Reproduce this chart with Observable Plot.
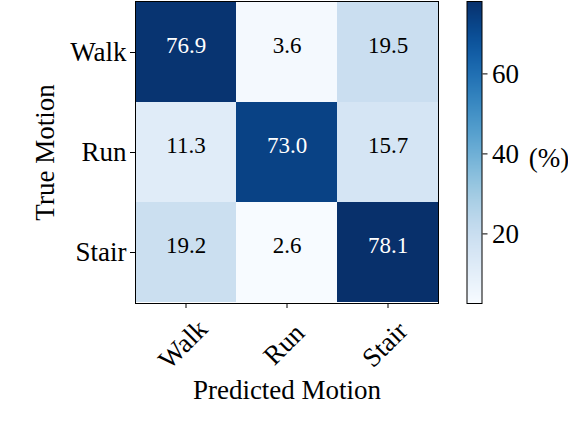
<!DOCTYPE html>
<html>
<head>
<meta charset="utf-8">
<script src="https://cdn.jsdelivr.net/npm/d3@7"></script>
<script src="https://cdn.jsdelivr.net/npm/@observablehq/plot@0.6"></script>
<style>
  html, body { margin: 0; padding: 0; background: #fff; }
  #wrap { position: relative; width: 568px; height: 434px; }
  #wrap svg { position: absolute; left: 0; top: 0; }
</style>
</head>
<body>
<div id="wrap"></div>
<script>
const trueLabels = ["Walk", "Run", "Stair"];
const predLabels = ["Walk", "Run", "Stair"];
const walkRow = [76.9, 3.6, 19.5];
const runRow = [11.3, 73.0, 15.7];
const stairRow = [19.2, 2.6, 78.1];
const colorTicks = [20, 40, 60];

const rows = [walkRow, runRow, stairRow];
const cells = [];
rows.forEach((r, i) => r.forEach((v, j) => cells.push({t: trueLabels[i], p: predLabels[j], v})));
const vmin = d3.min(cells, d => d.v), vmax = d3.max(cells, d => d.v);
const font = "Liberation Serif";
const fs = 27;

const main = Plot.plot({
  width: 568, height: 434,
  marginLeft: 135, marginRight: 130, marginTop: 1, marginBottom: 131,
  style: {fontFamily: font, fontSize: fs + "px", background: "transparent", color: "black"},
  x: {domain: predLabels, padding: 0, label: null},
  y: {domain: trueLabels, padding: 0, label: null},
  color: {type: "linear", scheme: "blues", domain: [vmin, vmax]},
  marks: [
    Plot.cell(cells, {x: "p", y: "t", fill: "v"}),
    Plot.text(cells.filter(d => d.v <= 50), {x: "p", y: "t", text: d => d.v.toFixed(1), fill: "black", fontSize: 23, dy: -7}),
    Plot.text(cells.filter(d => d.v > 50), {x: "p", y: "t", text: d => d.v.toFixed(1), fill: "white", fontSize: 23, dy: -7}),
    Plot.frame({stroke: "black", strokeWidth: 1}),
    Plot.axisY({tickSize: 5, tickPadding: 4, fontSize: fs, label: null}),
    Plot.axisX({tickSize: 5, tickFormat: () => "", label: null}),
    Plot.text(predLabels, {x: d => d, frameAnchor: "bottom", dy: 41, dx: -3, rotate: -45, textAnchor: "middle", lineAnchor: "middle", fontSize: fs}),
    Plot.text(["Predicted Motion"], {frameAnchor: "bottom", dy: 87, textAnchor: "middle", lineAnchor: "middle", fontSize: fs}),
    Plot.text(["True Motion"], {frameAnchor: "left", dx: -90, rotate: -90, textAnchor: "middle", lineAnchor: "middle", fontSize: fs})
  ]
});

const bar = Plot.plot({
  width: 568, height: 434,
  marginLeft: 466.5, marginRight: 86.5, marginTop: 1, marginBottom: 131,
  style: {fontFamily: font, fontSize: fs + "px", background: "transparent", color: "black"},
  x: {domain: [0, 1], axis: null},
  y: {domain: [vmin, vmax], label: null},
  color: {type: "linear", scheme: "blues", domain: [vmin, vmax]},
  marks: [
    Plot.raster({x1: 0, x2: 1, y1: vmin, y2: vmax, width: 1, height: 302, fill: (x, y) => y, imageRendering: "pixelated"}),
    Plot.frame({stroke: "black", strokeWidth: 1}),
    Plot.axisY(colorTicks, {anchor: "right", tickSize: 5, tickPadding: 5, fontSize: fs, label: null}),
    Plot.text(["(%)"], {frameAnchor: "right", dx: 67, dy: 6, textAnchor: "middle", lineAnchor: "middle", fontSize: fs})
  ]
});

const wrap = document.getElementById("wrap");
wrap.appendChild(main);
wrap.appendChild(bar);
</script>
</body>
</html>
